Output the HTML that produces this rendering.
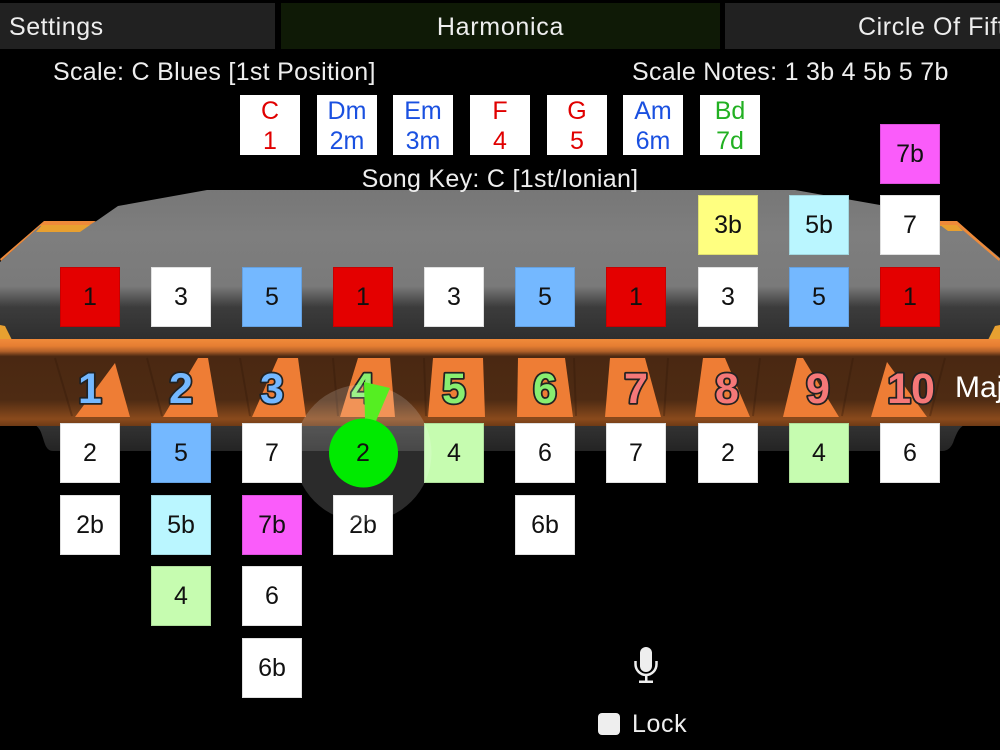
<!DOCTYPE html>
<html><head><meta charset="utf-8">
<style>
html,body{margin:0;padding:0;background:#000;}
#p{position:relative;width:1000px;height:750px;overflow:hidden;background:#000;font-family:"Liberation Sans",sans-serif;color:#eee;}
.t{position:absolute;white-space:nowrap;font-size:25px;line-height:30px;letter-spacing:.3px;}
.tab{position:absolute;top:3px;height:46px;background:#212121;}
.s{position:absolute;width:60px;height:60px;color:#111;font-size:25px;line-height:60px;text-align:center;box-shadow:inset 0 0 0 1px rgba(0,0,0,.12);}
.c{position:absolute;top:96px;width:60px;height:59px;background:#fff;font-size:25px;line-height:30px;text-align:center;box-shadow:0 -1px 0 #fff;}
svg{position:absolute;left:0;top:0;}
</style></head><body><div id="p">
<div class="tab" style="left:0;width:275px"></div>
<div class="tab" style="left:281px;width:439px;background:#0f1a06"></div>
<div class="tab" style="left:725px;width:275px"></div>
<div class="t" style="left:9px;top:12px;letter-spacing:.55px">Settings</div>
<div class="t" style="left:281px;width:439px;top:12px;text-align:center;letter-spacing:.7px">Harmonica</div>
<div class="t" style="left:858px;top:12px;letter-spacing:.6px">Circle Of Fifths</div>
<div class="t" style="left:53px;top:57px">Scale: C Blues [1st Position]</div>
<div class="t" style="left:632px;top:57px">Scale Notes: 1 3b 4 5b 5 7b</div>
<div class="c" style="left:240px;color:#e00000">C<br>1</div>
<div class="c" style="left:317px;color:#1a50e0">Dm<br>2m</div>
<div class="c" style="left:393px;color:#1a50e0">Em<br>3m</div>
<div class="c" style="left:470px;color:#e00000">F<br>4</div>
<div class="c" style="left:547px;color:#e00000">G<br>5</div>
<div class="c" style="left:623px;color:#1a50e0">Am<br>6m</div>
<div class="c" style="left:700px;color:#22b022">Bd<br>7d</div>

<svg width="1000" height="750" viewBox="0 0 1000 750">
<defs>
<linearGradient id="g" gradientUnits="userSpaceOnUse" x1="0" y1="190" x2="0" y2="340"><stop offset="0" stop-color="#777"/><stop offset=".3" stop-color="#7e7e7e"/><stop offset=".64" stop-color="#7a7a7a"/><stop offset=".78" stop-color="#3c3c3c"/><stop offset="1" stop-color="#2e2e2e"/></linearGradient>
<linearGradient id="b" gradientUnits="userSpaceOnUse" x1="0" y1="339" x2="0" y2="426"><stop offset="0" stop-color="#f08a3a"/><stop offset=".08" stop-color="#e67e32"/><stop offset=".14" stop-color="#b4622a"/><stop offset=".2" stop-color="#4a2812"/><stop offset=".7" stop-color="#4e2b13"/><stop offset=".92" stop-color="#8a4a1c"/><stop offset="1" stop-color="#6e3a16"/></linearGradient>
<linearGradient id="d" x1="0" y1="0" x2="0" y2="1"><stop offset="0" stop-color="#333"/><stop offset="1" stop-color="#242424"/></linearGradient>
</defs>
<path d="M0,262L44,222H95L118,206L207,190H795L880,205L905,219L957,222L1000,258V340H0Z" fill="url(#g)"/>
<polygon points="0,259 44,221 96,221 88,226 40,226 1,261" fill="#ee8a3a"/>
<polygon points="42,225 90,225 80,232 36,232" fill="#e8a030"/>
<polygon points="1000,259 957,221 905,221 912,226 958,226 999,261" fill="#ee8a3a"/>
<polygon points="940,225 957,225 963,231 948,231" fill="#e8a030"/>
<polygon points="0,325 5,326 12,340 0,340" fill="#e8a030"/><polygon points="1000,325 995,326 988,340 1000,340" fill="#e8a030"/>
<path d="M35,425H964C958,429 957,433 954,440C952,447 948,451 942,451H53C47,451 45,445 43,438C41,432 40,428 35,425Z" fill="url(#d)"/>
<rect x="0" y="339" width="1000" height="87" fill="url(#b)"/>
<g fill="#ee7d35">
<polygon points="75,417 115,363 130,417"/>
<polygon points="163,417 198,358 208,358 218,417"/>
<polygon points="252,417 278,358 298,358 306,417"/>
<polygon points="340,417 358,358 390,358 395,417"/>
<polygon points="428,417 433,358 483,358 485,417"/>
<polygon points="517,417 518,358 565,358 573,417"/>
<polygon points="605,417 610,358 645,358 661,417"/>
<polygon points="695,417 703,358 725,358 750,417"/>
<polygon points="783,417 797,358 803,358 839,417"/>
<polygon points="871,417 887,362 927,417"/>
</g>
<g stroke="#2e1608" stroke-width="2" opacity=".3">
<line x1="55" y1="358" x2="72" y2="416"/><line x1="147" y1="358" x2="162" y2="416"/><line x1="240" y1="358" x2="250" y2="416"/><line x1="333" y1="358" x2="338" y2="416"/><line x1="424" y1="358" x2="426" y2="416"/>
<line x1="574" y1="358" x2="576" y2="416"/><line x1="668" y1="358" x2="664" y2="416"/><line x1="760" y1="358" x2="753" y2="416"/><line x1="853" y1="358" x2="842" y2="416"/><line x1="945" y1="358" x2="930" y2="416"/>
</g>
<g font-family="Liberation Sans" font-weight="700" font-size="43" text-anchor="middle" stroke="#222" stroke-width="3.5" paint-order="stroke" stroke-linejoin="round">
<text x="90" y="403" fill="#74b8ff">1</text>
<text x="181" y="403" fill="#74b8ff">2</text>
<text x="272" y="403" fill="#74b8ff">3</text>
<text x="363" y="403" fill="#88ee70">4</text>
<text x="454" y="403" fill="#88ee70">5</text>
<text x="545" y="403" fill="#88ee70">6</text>
<text x="636" y="403" fill="#f57878">7</text>
<text x="727" y="403" fill="#f57878">8</text>
<text x="818" y="403" fill="#f57878">9</text>
<text x="911" y="403" fill="#f57878">10</text>
</g>
</svg>
<div class="t" style="left:0;width:1000px;top:164px;text-align:center;background:none">Song Key: C [1st/Ionian]</div>
<div class="t" style="left:955px;top:373px;color:#fff;font-size:30px;letter-spacing:0">Major</div>

<div class="s" style="left:880px;top:124px;background:#fa5cfa">7b</div>
<div class="s" style="left:698px;top:195px;background:#ffff80">3b</div>
<div class="s" style="left:789px;top:195px;background:#baf6ff">5b</div>
<div class="s" style="left:880px;top:195px;background:#fff">7</div>

<div class="s" style="left:60px;top:267px;background:#e40000">1</div>
<div class="s" style="left:151px;top:267px;background:#fff">3</div>
<div class="s" style="left:242px;top:267px;background:#74b8ff">5</div>
<div class="s" style="left:333px;top:267px;background:#e40000">1</div>
<div class="s" style="left:424px;top:267px;background:#fff">3</div>
<div class="s" style="left:515px;top:267px;background:#74b8ff">5</div>
<div class="s" style="left:606px;top:267px;background:#e40000">1</div>
<div class="s" style="left:698px;top:267px;background:#fff">3</div>
<div class="s" style="left:789px;top:267px;background:#74b8ff">5</div>
<div class="s" style="left:880px;top:267px;background:#e40000">1</div>

<div class="s" style="left:60px;top:423px;background:#fff">2</div>
<div class="s" style="left:151px;top:423px;background:#74b8ff">5</div>
<div class="s" style="left:242px;top:423px;background:#fff">7</div>
<div class="s" style="left:424px;top:423px;background:#c6fcb0">4</div>
<div class="s" style="left:515px;top:423px;background:#fff">6</div>
<div class="s" style="left:606px;top:423px;background:#fff">7</div>
<div class="s" style="left:698px;top:423px;background:#fff">2</div>
<div class="s" style="left:789px;top:423px;background:#c6fcb0">4</div>
<div class="s" style="left:880px;top:423px;background:#fff">6</div>

<div class="s" style="left:60px;top:495px;background:#fff">2b</div>
<div class="s" style="left:151px;top:495px;background:#baf6ff">5b</div>
<div class="s" style="left:242px;top:495px;background:#fa5cfa">7b</div>
<div class="s" style="left:333px;top:495px;background:#fff">2b</div>
<div class="s" style="left:515px;top:495px;background:#fff">6b</div>

<div class="s" style="left:151px;top:566px;background:#c6fcb0">4</div>
<div class="s" style="left:242px;top:566px;background:#fff">6</div>
<div class="s" style="left:242px;top:638px;background:#fff">6b</div>

<svg width="1000" height="750" viewBox="0 0 1000 750">
<circle cx="363" cy="453" r="68.5" fill="#fff" fill-opacity=".17"/>
<polygon points="364,382 390,388 376,421 365,419" fill="#55ee22"/>
<circle cx="363.500" cy="453" r="34.500" fill="#00ea00"/>
<rect x="640" y="647" width="12" height="25" rx="6" fill="#eee"/>
<path d="M635.500,661V664A10.500,11 0 0 0 656.500,664V661" fill="none" stroke="#eee" stroke-width="2.500"/>
<rect x="645" y="675" width="2.500" height="7" fill="#eee"/>
<rect x="639" y="680.500" width="14" height="2.500" fill="#eee"/>
<rect x="598" y="713" width="22" height="22" rx="4" fill="#eee"/>
</svg>
<div class="s" style="left:333px;top:423px;background:transparent;box-shadow:none">2</div>
<div class="t" style="left:632px;top:709px;letter-spacing:.6px">Lock</div>
</div></body></html>
